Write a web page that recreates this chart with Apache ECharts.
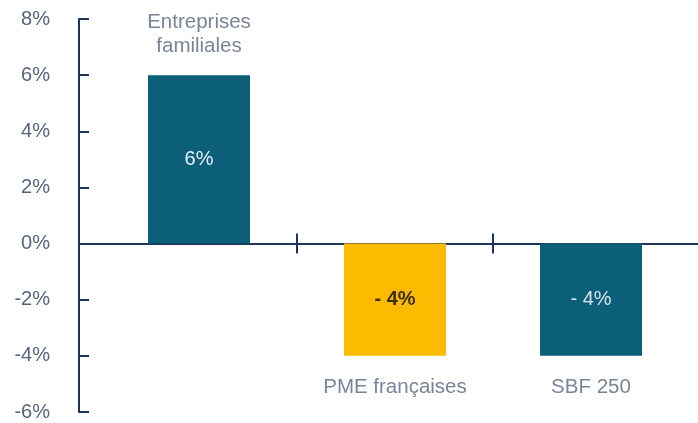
<!DOCTYPE html>
<html>
<head>
<meta charset="utf-8">
<script src="https://cdn.jsdelivr.net/npm/echarts@6/dist/echarts.min.js"></script>
<style>
  html, body { margin: 0; padding: 0; background: #fff; }
  #chart { width: 698px; height: 423px; }
</style>
</head>
<body>
<div id="chart"></div>
<script>
  // données
  var categories = ['Entreprises\nfamiliales', 'PME françaises', 'SBF 250']
  var values = [6, -4, -4]
  var yMin = -6
  var yMax = 8
  var yStep = 2

  // couleurs
  var navy = '#1d3658'
  var textGrey = '#56657e'
  var barColors = ['#0c5f79', '#fcbb00', '#0c5f79']
  var innerColors = ['#e6f0f3', '#3b2f05', '#d3e4ea']
  var font = 'Liberation Sans, Arial, sans-serif'

  function hiddenY (grid) {
    return {
      type: 'value', gridIndex: grid, min: yMin, max: yMax, interval: yStep,
      show: false
    }
  }

  function tickAxis (pos) {
    return {
      type: 'category', gridIndex: 2, data: [''], position: pos,
      axisLine: { onZero: true, lineStyle: { color: navy, width: 2 } },
      axisTick: { show: true, length: 10, lineStyle: { color: navy, width: 2 } },
      axisLabel: { show: false }
    }
  }

  var option = {
    animation: false,
    grid: [
      { left: 101, right: 9, top: 19, bottom: 11 },   // barres
      { left: 79, right: 0, top: 19, bottom: 11 },    // ligne du zéro
      { left: 297, right: 205, top: 19, bottom: 11 }  // séparateurs
    ],
    xAxis: [
      {
        type: 'category', gridIndex: 0, data: categories,
        axisLine: { show: false }, axisTick: { show: false }, axisLabel: { show: false }
      },
      {
        type: 'category', gridIndex: 1, data: [''],
        axisLine: { onZero: true, lineStyle: { color: navy, width: 2 } },
        axisTick: { show: false }, axisLabel: { show: false }
      },
      tickAxis('bottom'),
      tickAxis('top')
    ],
    yAxis: [
      {
        type: 'value', gridIndex: 0, min: yMin, max: yMax, interval: yStep,
        offset: 22,
        axisLine: { show: true, lineStyle: { color: navy, width: 2 } },
        axisTick: { show: true, inside: true, length: 10, lineStyle: { color: navy, width: 2 } },
        splitLine: { show: false },
        axisLabel: {
          formatter: '{value}%', margin: 29,
          color: textGrey, fontSize: 20, fontFamily: font
        }
      },
      hiddenY(1),
      hiddenY(2),
      Object.assign(hiddenY(2), { position: 'right' })
    ],
    series: [
      {
        type: 'bar',
        xAxisIndex: 0, yAxisIndex: 0,
        barWidth: 102,
        data: values.map(function (v, i) {
          return {
            value: v,
            itemStyle: { color: barColors[i] },
            label: { color: innerColors[i], fontWeight: i === 1 ? 'bold' : 'normal' }
          }
        }),
        label: {
          show: true, position: 'inside', fontSize: 20, fontFamily: font,
          formatter: function (p) {
            return p.value < 0 ? '- ' + Math.abs(p.value) + '%' : p.value + '%'
          }
        },
        z: 3
      },
      {
        // noms des catégories au bout des barres
        type: 'scatter',
        xAxisIndex: 0, yAxisIndex: 0,
        symbolSize: 0,
        data: values.map(function (v, i) {
          return {
            value: [i, v],
            label: { position: v >= 0 ? 'top' : 'bottom', distance: v >= 0 ? 17 : 19 }
          }
        }),
        label: {
          show: true, color: textGrey, fontSize: 20.5, fontFamily: font, lineHeight: 24,
          align: 'center',
          formatter: function (p) { return categories[p.dataIndex] }
        },
        silent: true
      }
    ]
  }

  var chart = echarts.init(document.getElementById('chart'))
  chart.setOption(option)
</script>
</body>
</html>
